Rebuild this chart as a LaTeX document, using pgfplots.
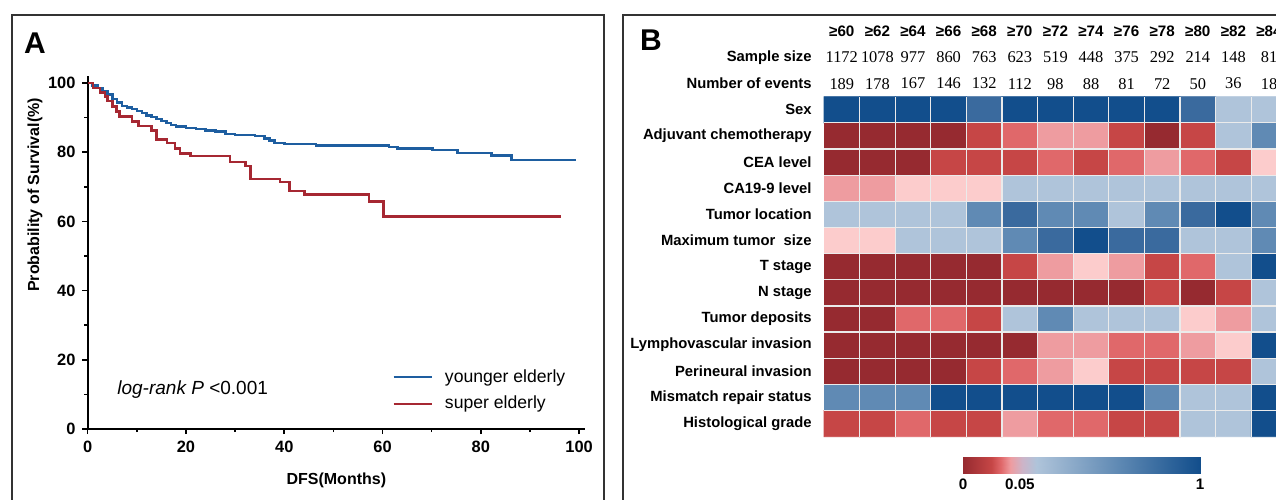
\documentclass[border=0pt]{standalone}
\usepackage{fontspec}
\setmainfont{Liberation Sans}
\newfontfamily\serifnum{Liberation Serif}
\usepackage{pgfplots}
\pgfplotsset{compat=1.18}

\definecolor{kmblue}{RGB}{30,94,160}
\definecolor{kmred}{RGB}{166,40,50}

\begin{document}
\begin{tikzpicture}
\useasboundingbox (0,0) rectangle (638pt,249.5pt);

% panel frames
\draw[line width=0.9pt, black!80] (6pt,-10pt) -- (6pt,242pt) -- (302pt,242pt) -- (302pt,-10pt);
\draw[line width=0.9pt, black!80] (311.5pt,-10pt) -- (311.5pt,242pt) -- (660pt,242pt);
\node[font=\bfseries\fontsize{15}{16}\selectfont] at (17.5pt,228pt) {A};
\node[font=\bfseries\fontsize{15}{16}\selectfont] at (325.5pt,229.5pt) {B};

% ---------------- panel A: Kaplan-Meier ----------------
\begin{axis}[
    at={(43.85pt,35pt)}, anchor=south west,
    scale only axis, width=248.65pt, height=176.5pt,
    xmin=0, xmax=101.2, ymin=0, ymax=102,
    axis lines=left, axis line style={-, line width=0.9pt},
    xtick={0,20,...,100}, minor xtick={10,30,...,90},
    ytick={0,20,...,100}, minor ytick={10,30,...,90},
    tick align=outside, major tick length=2.6pt, minor tick length=1.6pt,
    tick style={black, line width=0.8pt},
    ticklabel style={font=\bfseries\fontsize{8.2}{9}\selectfont},
    /pgf/number format/assume math mode=true,
    xlabel={DFS(Months)}, ylabel={Probability of Survival(\%)},
    label style={font=\bfseries\fontsize{8}{9}\selectfont},
    xlabel style={at={(axis description cs:0.5,0)}, anchor=center, yshift=-25.5pt},
    ylabel style={at={(axis description cs:-0.106,0.663)}, anchor=center},
    legend style={draw=none, fill=none, at={(0.6,0.109)}, anchor=west,
        font=\fontsize{8.8}{10}\selectfont, row sep=1.5pt},
    legend cell align=left,
    legend image code/.code={\draw[#1] (0pt,0pt) -- (19pt,0pt); \path (23pt,0pt);},
    clip=false,
]
\addplot[const plot, kmblue, line width=1.25pt] coordinates {
    (0,100) (1,99.3) (2,98.6) (3,97.7) (4,96.6) (5,95.4) (6,94.3) (7,93.4)
    (8,92.9) (9,92.4) (10,91.9) (11,91.3) (12,90.6) (13,90.1) (14,89.6)
    (15,89.0) (16,88.4) (17,87.9) (18,87.4) (20,87.0) (22,86.7) (24,86.3)
    (26,85.9) (28,85.3) (30,84.9) (34,84.6) (36,83.9) (37,83.3) (38,82.7)
    (40,82.4) (46.5,81.9) (61.3,81.5) (63,81.0) (70.2,80.6) (75.3,79.8)
    (82.2,79.1) (86.2,77.8) (99.4,77.8)
};
\addlegendentry{younger elderly}
\addplot[const plot, kmred, line width=1.25pt] coordinates {
    (0,100) (1.1,98.5) (2.5,97.2) (3.5,96.1) (4,94.8) (5,93.2) (5.9,91.7)
    (6.5,90.3) (9,88.8) (10.3,87.6) (13,86.2) (14,83.7) (16.1,82.7)
    (17.8,81.0) (18.8,79.6) (20.9,78.9) (29,77.2) (32.1,76.0) (33.1,72.3)
    (39.1,71.3) (41.1,68.7) (44.1,67.7) (57.2,65.8) (60.2,61.4) (96.4,61.4)
};
\addlegendentry{super elderly}
\node[anchor=west, inner sep=0pt, font=\fontsize{9.5}{11}\selectfont] at (axis cs:5.96,11.3)
    {\textit{log-rank P} <0.001};
\end{axis}

% ---------------- panel B: heatmap ----------------
\begin{axis}[
    at={(412pt,31.15pt)}, anchor=south west,
    scale only axis, width=231.4pt, height=170pt,
    xmin=0.5, xmax=13.5, ymin=0.5, ymax=13.5, y dir=reverse,
    axis line style={draw=none}, major tick length=0pt,
    xtick={1.5,2.5,...,12.5}, xticklabels={},
    ytick={1,...,13},
    yticklabels={Sex, Adjuvant chemotherapy, CEA level, CA19-9 level,
        Tumor location, Maximum tumor\ \ size, T stage, N stage, Tumor deposits,
        Lymphovascular invasion, Perineural invasion, Mismatch repair status,
        Histological grade},
    yticklabel style={font=\bfseries\fontsize{7.4}{8}\selectfont, inner sep=0pt, xshift=-6pt},
    extra y ticks={1.5,2.5,...,12.5}, extra y tick labels={},
    extra y tick style={ymajorgrids=true},
    xmajorgrids=true, ymajorgrids=false,
    major grid style={white!92!black, line width=0.6pt},
    axis on top, clip=false,
    colormap={heat}{
        rgb255(0)=(150,42,48)   rgb255(8)=(150,42,48)
        rgb255(10)=(198,70,70)  rgb255(18)=(198,70,70)
        rgb255(20)=(224,104,106) rgb255(28)=(224,104,106)
        rgb255(30)=(238,156,160) rgb255(38)=(238,156,160)
        rgb255(40)=(252,204,204) rgb255(48)=(252,204,204)
        rgb255(50)=(175,196,218) rgb255(58)=(175,196,218)
        rgb255(60)=(96,138,180)  rgb255(68)=(96,138,180)
        rgb255(70)=(58,106,158)  rgb255(78)=(58,106,158)
        rgb255(80)=(18,78,140)   rgb255(88)=(18,78,140)},
    point meta min=0, point meta max=8,
]
\addplot[matrix plot*, mesh/cols=13, point meta=explicit] coordinates {
(1,1)[8] (2,1)[8] (3,1)[8] (4,1)[8] (5,1)[7] (6,1)[8] (7,1)[8] (8,1)[8] (9,1)[8] (10,1)[8] (11,1)[7] (12,1)[5] (13,1)[5]
(1,2)[0] (2,2)[0] (3,2)[0] (4,2)[0] (5,2)[1] (6,2)[2] (7,2)[3] (8,2)[3] (9,2)[1] (10,2)[0] (11,2)[1] (12,2)[5] (13,2)[6]
(1,3)[0] (2,3)[0] (3,3)[0] (4,3)[1] (5,3)[1] (6,3)[1] (7,3)[2] (8,3)[1] (9,3)[2] (10,3)[3] (11,3)[2] (12,3)[1] (13,3)[4]
(1,4)[3] (2,4)[3] (3,4)[4] (4,4)[4] (5,4)[4] (6,4)[5] (7,4)[5] (8,4)[5] (9,4)[5] (10,4)[5] (11,4)[5] (12,4)[5] (13,4)[5]
(1,5)[5] (2,5)[5] (3,5)[5] (4,5)[5] (5,5)[6] (6,5)[7] (7,5)[6] (8,5)[6] (9,5)[5] (10,5)[6] (11,5)[7] (12,5)[8] (13,5)[6]
(1,6)[4] (2,6)[4] (3,6)[5] (4,6)[5] (5,6)[5] (6,6)[6] (7,6)[7] (8,6)[8] (9,6)[7] (10,6)[7] (11,6)[5] (12,6)[5] (13,6)[6]
(1,7)[0] (2,7)[0] (3,7)[0] (4,7)[0] (5,7)[0] (6,7)[1] (7,7)[3] (8,7)[4] (9,7)[3] (10,7)[1] (11,7)[2] (12,7)[5] (13,7)[8]
(1,8)[0] (2,8)[0] (3,8)[0] (4,8)[0] (5,8)[0] (6,8)[0] (7,8)[0] (8,8)[0] (9,8)[0] (10,8)[1] (11,8)[0] (12,8)[1] (13,8)[5]
(1,9)[0] (2,9)[0] (3,9)[2] (4,9)[2] (5,9)[1] (6,9)[5] (7,9)[6] (8,9)[5] (9,9)[5] (10,9)[5] (11,9)[4] (12,9)[3] (13,9)[5]
(1,10)[0] (2,10)[0] (3,10)[0] (4,10)[0] (5,10)[0] (6,10)[0] (7,10)[3] (8,10)[3] (9,10)[2] (10,10)[2] (11,10)[3] (12,10)[4] (13,10)[8]
(1,11)[0] (2,11)[0] (3,11)[0] (4,11)[0] (5,11)[1] (6,11)[2] (7,11)[3] (8,11)[4] (9,11)[1] (10,11)[1] (11,11)[1] (12,11)[1] (13,11)[5]
(1,12)[6] (2,12)[6] (3,12)[6] (4,12)[8] (5,12)[8] (6,12)[8] (7,12)[8] (8,12)[8] (9,12)[8] (10,12)[6] (11,12)[5] (12,12)[5] (13,12)[8]
(1,13)[1] (2,13)[1] (3,13)[2] (4,13)[1] (5,13)[1] (6,13)[3] (7,13)[2] (8,13)[2] (9,13)[1] (10,13)[1] (11,13)[5] (12,13)[5] (13,13)[8]
};
% column headers, sample sizes and events
\addplot[draw=none, nodes near coords, point meta=explicit symbolic,
    every node near coord/.style={anchor=center, font=\bfseries\fontsize{7.6}{8}\selectfont}]
    coordinates {
    (1,-2)[≥60] (2,-2)[≥62] (3,-2)[≥64] (4,-2)[≥66] (5,-2)[≥68] (6,-2)[≥70] (7,-2)[≥72]
    (8,-2)[≥74] (9,-2)[≥76] (10,-2)[≥78] (11,-2)[≥80] (12,-2)[≥82] (13,-2)[≥84]
};
\addplot[draw=none, nodes near coords, point meta=explicit symbolic,
    every node near coord/.style={anchor=center, font=\serifnum\fontsize{8.2}{9}\selectfont}]
    coordinates {
    (1,-1)[1172] (2,-1)[1078] (3,-1)[977] (4,-1)[860] (5,-1)[763] (6,-1)[623] (7,-1)[519]
    (8,-1)[448] (9,-1)[375] (10,-1)[292] (11,-1)[214] (12,-1)[148] (13,-1)[81]
    (1,0)[189] (2,0)[178] (3,0)[167] (4,0)[146] (5,0)[132] (6,0)[112] (7,0)[98]
    (8,0)[88] (9,0)[81] (10,0)[72] (11,0)[50] (12,0)[36] (13,0)[18]
};
\node[anchor=east, inner sep=0pt, font=\bfseries\fontsize{7.4}{8}\selectfont]
    at ([xshift=-6pt]axis cs:0.5,-1) {Sample size};
\node[anchor=east, inner sep=0pt, font=\bfseries\fontsize{7.4}{8}\selectfont]
    at ([xshift=-6pt]axis cs:0.5,0) {Number of events};
\end{axis}

% colour bar
\begin{axis}[
    at={(481.5pt,12.85pt)}, anchor=south west,
    scale only axis, width=118.5pt, height=8.3pt,
    xmin=0, xmax=1, ymin=0, ymax=1,
    axis line style={draw=none}, major tick length=0pt,
    ytick=\empty, xtick={0,0.24,1}, xticklabels={0,0.05,1},
    xticklabel style={font=\bfseries\fontsize{7.6}{8}\selectfont, inner sep=0pt, yshift=-2.5pt},
    colormap={cbar}{
        rgb255(0)=(150,42,48) rgb255(12)=(198,70,70) rgb255(16)=(224,104,106)
        rgb255(20)=(238,156,160) rgb255(25)=(205,180,200) rgb255(31)=(175,196,218)
        rgb255(65)=(96,138,180) rgb255(100)=(18,78,140)},
    point meta min=0, point meta max=1,
]
\addplot[surf, shader=interp, mesh/cols=2, point meta=x] coordinates {
    (0,0) (1,0)
    (0,1) (1,1)
};
\end{axis}
\end{tikzpicture}
\end{document}
